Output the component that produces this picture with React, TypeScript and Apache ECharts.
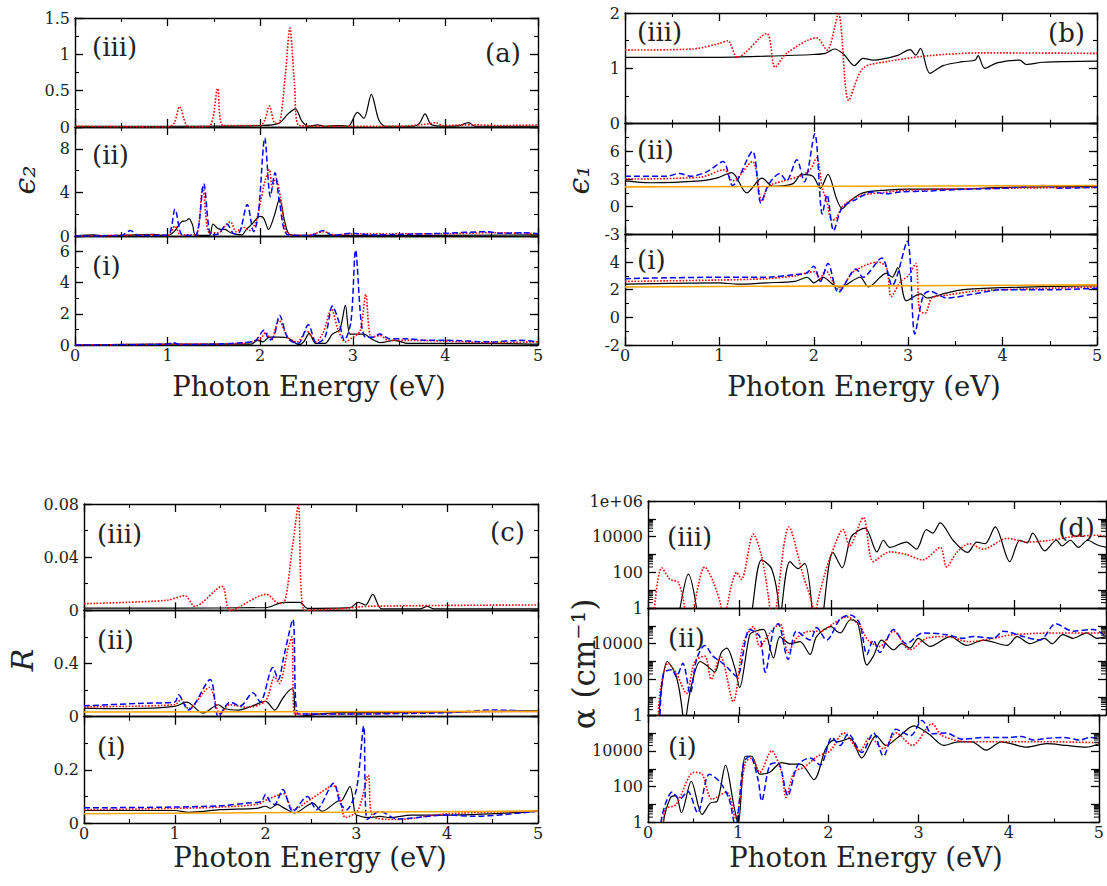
import React, { useEffect, useRef } from "react";
import * as echarts from "echarts";

const FONT = "DejaVu Serif";

// ---------- Panel (a): epsilon_2 ----------
const a3Black = [[0,0.01],[1.0,0.01],[2.0,0.02],[2.2,0.05],[2.3,0.18],[2.38,0.25],[2.45,0.08],[2.52,0.01],[2.62,0.03],[2.7,0.01],[2.85,0.02],[2.95,0.01],[3.05,0.2],[3.12,0.12],[3.2,0.45],[3.28,0.1],[3.35,0.01],[3.65,0.01],[3.72,0.05],[3.78,0.18],[3.85,0.03],[4.0,0.01],[4.15,0.02],[4.25,0.06],[4.32,0.01],[5.0,0.01]];
const a3Red = [[0,0.01],[1.0,0.0],[1.07,0.05],[1.13,0.28],[1.2,0.03],[1.25,0.0],[1.45,0.01],[1.54,0.53],[1.6,0.02],[2.0,0.02],[2.05,0.1],[2.1,0.29],[2.16,0.05],[2.2,0.05],[2.27,0.7],[2.32,1.36],[2.37,0.6],[2.42,0.02],[2.7,0.01],[3.0,0.01],[3.5,0.01],[3.8,0.04],[3.9,0.06],[3.97,0.02],[4.3,0.03],[4.6,0.02],[5.0,0.03]];

const a2Black = [[0,0],[0.2,0.1],[0.3,0.02],[0.85,0.15],[0.95,0.05],[1.0,0.05],[1.07,0.4],[1.15,1.3],[1.2,1.4],[1.23,1.6],[1.27,1.0],[1.3,0.1],[1.45,0.05],[1.49,1.1],[1.54,0.7],[1.58,0.6],[1.62,0.6],[1.68,0.3],[1.8,0.1],[1.85,0.6],[1.9,1.0],[2.0,1.8],[2.04,1.6],[2.09,0.6],[2.15,1.8],[2.21,3.4],[2.26,1.5],[2.31,0.2],[2.4,0.05],[3.0,0.05],[5.0,0.1]];
const a2Red = [[0,0],[0.85,0.1],[1.0,0.05],[1.08,0.9],[1.14,0.1],[1.3,0.1],[1.38,4.5],[1.45,0.3],[1.55,0.3],[1.62,0.9],[1.68,1.3],[1.74,0.4],[1.82,0.8],[1.88,0.5],[1.95,1.2],[2.0,3.0],[2.05,5.0],[2.1,6.1],[2.13,4.5],[2.17,5.3],[2.22,3.5],[2.3,0.2],[2.5,0.05],[2.68,0.4],[2.8,0.1],[3.0,0.2],[4.0,0.2],[4.5,0.3],[5.0,0.2]];
const a2Blue = [[0,0],[0.5,0.05],[0.6,0.5],[0.68,0.05],[1.0,0.1],[1.08,2.45],[1.16,0.1],[1.3,0.05],[1.39,4.8],[1.47,0.1],[1.55,0.2],[1.64,1.1],[1.72,0.2],[1.78,0.4],[1.86,2.9],[1.93,0.4],[1.98,2.0],[2.05,9.0],[2.11,3.6],[2.16,5.8],[2.21,3.0],[2.3,0.1],[2.55,0.05],[2.68,0.5],[2.78,0.05],[3.0,0.25],[3.2,0.1],[3.5,0.15],[4.0,0.25],[4.45,0.4],[4.6,0.25],[4.85,0.3],[5.0,0.2]];

const a1Black = [[0,0],[1.0,0.05],[1.9,0.05],[1.97,0.3],[2.03,0.2],[2.1,0.5],[2.2,0.5],[2.3,0.45],[2.42,0.02],[2.47,0.2],[2.53,0.75],[2.6,0.1],[2.7,0.1],[2.78,0.7],[2.86,1.0],[2.92,2.55],[2.97,0.7],[3.05,0.7],[3.12,0.7],[3.2,0.4],[3.3,0.15],[3.45,0.3],[3.6,0.1],[4.0,0.1],[4.5,0.1],[5.0,0.05]];
const a1Red = [[0,0],[1.0,0.05],[1.8,0.1],[2.0,0.4],[2.06,0.8],[2.12,0.3],[2.2,1.6],[2.3,0.5],[2.4,0.2],[2.5,0.9],[2.6,0.2],[2.68,0.8],[2.77,2.3],[2.84,1.0],[2.92,0.2],[3.0,0.5],[3.08,0.9],[3.14,3.25],[3.2,0.5],[3.3,0.6],[3.38,0.3],[3.6,0.3],[4.0,0.25],[4.5,0.15],[5.0,0.2]];
const a1Blue = [[0,0],[1.0,0.05],[1.05,0.15],[1.15,0.02],[1.5,0.05],[1.8,0.15],[1.95,0.3],[2.04,0.95],[2.1,0.3],[2.15,0.6],[2.21,1.9],[2.3,0.4],[2.41,0.1],[2.52,1.3],[2.61,0.1],[2.7,0.5],[2.78,2.5],[2.85,1.5],[2.91,0.3],[2.98,1.5],[3.03,6.1],[3.09,1.5],[3.14,0.5],[3.22,0.5],[3.29,0.7],[3.4,0.4],[3.6,0.4],[3.8,0.3],[4.0,0.3],[4.5,0.2],[4.8,0.3],[5.0,0.2]];

// ---------- Panel (b): epsilon_1 ----------
const b3Black = [[0,1.2],[1.0,1.2],[1.5,1.22],[2.0,1.25],[2.12,1.27],[2.22,1.35],[2.32,1.25],[2.43,1.05],[2.52,1.18],[2.63,1.15],[2.88,1.23],[3.02,1.34],[3.08,1.24],[3.13,1.36],[3.23,0.91],[3.37,1.05],[3.58,1.12],[3.71,1.15],[3.74,1.23],[3.81,1.0],[3.94,1.1],[4.18,1.15],[4.25,1.07],[4.43,1.11],[5.0,1.13]];
const b3Red = [[0,1.33],[0.72,1.35],[1.0,1.45],[1.09,1.5],[1.19,1.2],[1.5,1.63],[1.59,1.02],[1.71,1.27],[2.03,1.55],[2.14,1.33],[2.26,1.98],[2.37,0.42],[2.52,1.0],[2.77,1.12],[3.23,1.23],[3.79,1.28],[5.0,1.27]];

const b2Black = [[0,2.8],[0.27,2.6],[0.8,2.8],[0.97,3.1],[1.13,3.7],[1.29,1.5],[1.45,3.1],[1.57,2.2],[1.78,2.5],[1.87,3.5],[1.99,3.3],[2.07,2.0],[2.15,3.5],[2.24,0.9],[2.3,-0.2],[2.38,0.6],[2.52,1.5],[2.77,1.8],[3.0,1.9],[3.5,1.9],[4.0,2.1],[5.0,2.2]];
const b2Red = [[0,3.0],[0.8,3.2],[1.05,4.0],[1.14,2.8],[1.35,4.9],[1.45,0.6],[1.52,2.2],[1.68,2.8],[1.85,3.3],[1.96,4.0],[2.03,5.3],[2.09,2.0],[2.14,0.5],[2.19,-1.5],[2.24,-1.2],[2.31,0.1],[2.49,1.2],[2.7,1.5],[3.0,1.8],[4.0,2.0],[5.0,2.1]];
const b2Blue = [[0,3.3],[0.44,3.3],[0.58,3.6],[0.69,3.3],[0.87,3.8],[1.04,4.9],[1.14,2.3],[1.35,6.0],[1.44,0.4],[1.52,2.4],[1.64,3.6],[1.71,2.8],[1.82,5.1],[1.9,2.7],[2.01,7.9],[2.09,-0.8],[2.14,1.3],[2.21,-2.6],[2.3,-0.1],[2.45,0.8],[2.62,1.6],[2.77,1.4],[2.91,1.6],[3.2,1.7],[3.6,1.9],[4.0,2.0],[4.45,2.3],[4.6,2.0],[5.0,2.1]];
const b2Orange = [[0,2.15],[5,2.3]];

const b1Black = [[0,2.4],[1.0,2.5],[1.2,2.4],[1.5,2.5],[1.8,2.6],[1.93,2.9],[2.0,2.5],[2.1,2.9],[2.2,2.4],[2.28,2.2],[2.49,2.9],[2.58,2.2],[2.77,3.2],[2.83,2.9],[2.89,3.6],[2.98,1.2],[3.13,1.7],[3.2,1.4],[3.37,1.7],[3.58,2.0],[4.0,2.15],[5.0,2.3]];
const b1Red = [[0,2.6],[1.0,2.7],[1.5,2.8],[1.8,3.0],[2.0,3.3],[2.07,2.8],[2.12,3.4],[2.27,2.0],[2.42,3.3],[2.68,4.0],[2.77,3.6],[2.82,1.5],[2.92,2.6],[3.0,3.0],[3.08,3.9],[3.12,0.5],[3.18,0.3],[3.25,1.4],[3.4,1.6],[3.7,1.9],[4.0,2.0],[5.0,2.2]];
const b1Blue = [[0,2.8],[1.0,2.9],[1.5,2.9],[1.8,3.1],[1.92,3.2],[2.0,3.7],[2.07,2.6],[2.15,3.9],[2.26,1.8],[2.45,3.5],[2.52,2.9],[2.72,4.3],[2.83,2.3],[2.99,5.5],[3.07,-1.2],[3.16,1.6],[3.23,1.9],[3.41,1.4],[3.7,1.7],[4.0,2.0],[4.5,2.0],[5.0,2.1]];
const b1Orange = [[0,2.2],[5,2.35]];

// ---------- Panel (c): reflectivity R ----------
const c3Black = [[0,0.0017],[1.0,0.0017],[2.0,0.002],[2.2,0.006],[2.38,0.006],[2.46,0.0015],[2.93,0.002],[3.02,0.006],[3.1,0.004],[3.18,0.012],[3.28,0.001],[3.7,0.001],[3.78,0.003],[3.85,0.001],[5.0,0.001]];
const c3Red = [[0,0.005],[0.91,0.0075],[1.11,0.011],[1.22,0.003],[1.52,0.018],[1.61,0.0],[2.01,0.012],[2.12,0.006],[2.19,0.005],[2.3,0.05],[2.36,0.079],[2.43,0.0],[2.79,0.001],[3.15,0.003],[5.0,0.004]];

const c2Black = [[0,0.065],[0.5,0.06],[1.0,0.077],[1.13,0.11],[1.31,0.027],[1.48,0.09],[1.55,0.06],[1.7,0.05],[1.85,0.08],[2.0,0.115],[2.1,0.05],[2.19,0.14],[2.29,0.21],[2.31,0.19],[2.34,0.0],[2.79,0.03],[3.0,0.03],[4.0,0.035],[5.0,0.045]];
const c2Red = [[0,0.075],[1.0,0.09],[1.07,0.13],[1.15,0.06],[1.38,0.22],[1.5,0.02],[1.6,0.09],[1.8,0.07],[2.0,0.12],[2.1,0.3],[2.15,0.25],[2.25,0.52],[2.29,0.6],[2.32,0.02],[2.8,0.02],[4.0,0.035],[5.0,0.04]];
const c2Blue = [[0,0.082],[0.6,0.1],[1.0,0.11],[1.04,0.165],[1.15,0.05],[1.39,0.28],[1.48,0.0],[1.61,0.11],[1.72,0.08],[1.86,0.18],[1.94,0.11],[2.08,0.37],[2.14,0.28],[2.2,0.45],[2.3,0.73],[2.36,0.02],[2.8,0.02],[4.0,0.03],[4.5,0.05],[5.0,0.04]];
const c2Orange = [[0,0.035],[5,0.04]];

const c1Black = [[0,0.047],[1.0,0.047],[1.15,0.04],[1.5,0.05],[1.9,0.055],[2.0,0.063],[2.05,0.055],[2.13,0.07],[2.2,0.057],[2.32,0.038],[2.52,0.075],[2.62,0.044],[2.79,0.082],[2.84,0.085],[2.93,0.138],[2.98,0.044],[3.0,0.03],[3.15,0.02],[3.26,0.025],[3.37,0.02],[3.6,0.03],[4.0,0.03],[5.0,0.044]];
const c1Red = [[0,0.05],[1.0,0.055],[1.5,0.06],[1.9,0.07],[2.03,0.09],[2.2,0.11],[2.3,0.05],[2.5,0.09],[2.75,0.14],[2.82,0.09],[2.88,0.02],[3.02,0.05],[3.13,0.18],[3.18,0.025],[3.45,0.013],[4.0,0.035],[5.0,0.045]];
const c1Blue = [[0,0.057],[1.0,0.06],[1.5,0.065],[1.8,0.075],[1.95,0.08],[2.0,0.107],[2.05,0.08],[2.1,0.07],[2.19,0.126],[2.3,0.044],[2.46,0.1],[2.56,0.05],[2.75,0.15],[2.82,0.075],[2.89,0.05],[3.0,0.126],[3.08,0.365],[3.12,0.013],[3.26,0.044],[3.45,0.015],[4.0,0.03],[4.3,0.025],[5.0,0.045]];
const c1Orange = [[0,0.035],[5,0.045]];

// ---------- Panel (d): absorption alpha (cm^-1), log scale ----------
const d3Black = [[0.3,0.01],[0.35,1],[0.44,80],[0.53,1],[0.56,0.01],[1.1,0.01],[1.14,1],[1.24,500],[1.35,160],[1.43,1],[1.44,0.01],[1.46,1],[1.55,400],[1.64,160],[1.71,320],[1.79,1],[1.8,0.01],[1.9,0.01],[1.92,1],[2.02,1300],[2.12,180],[2.22,1e4],[2.37,3e4],[2.5,1400],[2.57,6300],[2.64,2500],[2.82,5000],[2.93,2000],[3.04,2.5e4],[3.11,1.6e4],[3.19,6e4],[3.33,6300],[3.49,1300],[3.59,5000],[3.68,4000],[3.79,3.5e4],[3.95,400],[4.06,6300],[4.14,4500],[4.2,1.6e4],[4.33,1600],[4.46,6300],[4.52,3000],[4.61,6300],[4.7,2500],[4.8,6300],[4.9,3500],[5.0,2500]];
const d3Red = [[0.05,0.01],[0.08,3],[0.15,180],[0.24,40],[0.33,28],[0.4,1],[0.43,0.01],[0.5,1],[0.62,200],[0.71,32],[0.8,1],[0.82,0.01],[0.86,1],[0.97,100],[1.02,40],[1.15,1.4e4],[1.24,800],[1.33,1],[1.35,0.01],[1.4,1],[1.54,3.5e4],[1.69,80],[1.8,1],[1.82,0.01],[1.84,1],[1.93,80],[2.0,1000],[2.13,2.5e4],[2.2,3000],[2.35,1.2e5],[2.46,400],[2.64,1400],[2.82,1000],[3.0,500],[3.19,2500],[3.26,200],[3.37,1300],[3.51,4000],[3.66,2000],[3.92,8000],[4.14,5000],[4.36,6000],[4.64,1e4],[4.93,1.2e4],[5.0,1e4]];

const d2Black = [[0.1,0.01],[0.12,1],[0.15,40],[0.21,1000],[0.31,140],[0.38,1],[0.4,0.01],[0.42,1],[0.49,100],[0.57,1000],[0.66,500],[0.73,250],[0.8,3200],[0.86,5600],[0.95,400],[1.0,35],[1.11,3.2e4],[1.17,5e4],[1.26,6.3e4],[1.37,1600],[1.44,2.5e4],[1.55,1e4],[1.66,1.3e4],[1.77,2500],[1.84,2.5e4],[2.0,9e4],[2.06,5e4],[2.1,4e4],[2.21,2.2e5],[2.29,1.4e5],[2.39,630],[2.46,2000],[2.55,1.6e4],[2.68,4500],[2.77,1e4],[2.86,5600],[2.95,2e4],[3.08,7000],[3.3,2.5e4],[3.48,8000],[3.66,1.6e4],[3.92,8000],[4.03,2.5e4],[4.17,1e4],[4.33,2e4],[4.41,1e4],[4.53,3.2e4],[4.64,2e4],[4.79,4e4],[4.9,2e4],[5.0,2.5e4]];
const d2Red = [[0.1,0.01],[0.13,16],[0.22,800],[0.31,220],[0.42,16],[0.51,1000],[0.62,2000],[0.69,100],[0.79,2000],[0.93,5.6],[1.04,1e4],[1.15,9e4],[1.22,7000],[1.33,4e4],[1.44,1.3e5],[1.53,3200],[1.62,2e4],[1.77,5e4],[1.88,5e4],[2.02,1.3e5],[2.17,3.2e5],[2.31,1e5],[2.4,1.6e4],[2.53,7000],[2.68,5e4],[2.86,4500],[3.04,2e4],[3.26,2.5e4],[3.5,1.3e4],[4.0,3.2e4],[4.5,4e4],[5.0,4e4]];
const d2Blue = [[0.11,0.01],[0.13,1],[0.17,220],[0.26,350],[0.31,140],[0.38,800],[0.46,16],[0.53,1300],[0.62,8000],[0.71,2000],[0.79,1000],[0.86,500],[0.97,140],[1.11,6.3e4],[1.22,2.5e4],[1.28,250],[1.37,6.3e4],[1.42,1.3e5],[1.53,1300],[1.62,5e4],[1.77,1.6e4],[1.84,8e4],[1.95,1.6e4],[2.1,2.5e5],[2.21,4e5],[2.31,1.4e5],[2.39,2500],[2.46,1.6e4],[2.53,3200],[2.68,6.3e4],[2.82,1e4],[3.0,4e4],[3.26,3.2e4],[3.44,2e4],[3.55,2.5e4],[3.77,2e4],[3.88,5e4],[4.1,2.5e4],[4.28,1.6e4],[4.45,1.3e5],[4.64,5e4],[4.86,6.3e4],[5.0,2.5e4]];

const d1Black = [[0.15,0.01],[0.17,1],[0.25,25],[0.31,32],[0.37,3.5],[0.48,200],[0.6,2.8],[0.69,12],[0.77,16],[0.86,1600],[0.95,10],[1.0,0.8],[1.08,5000],[1.15,5000],[1.24,500],[1.35,630],[1.48,2200],[1.58,1800],[1.69,1800],[1.84,250],[1.97,1.3e4],[2.06,4e4],[2.1,3.2e4],[2.24,5e4],[2.37,4000],[2.53,7e4],[2.64,2e4],[2.77,5.6e4],[2.95,2.5e5],[3.11,9e4],[3.28,2e4],[3.44,3.2e4],[3.59,3.2e4],[3.75,1.1e4],[3.92,3.2e4],[4.2,1.6e4],[4.42,2.5e4],[4.64,2e4],[4.86,1.6e4],[5.0,2.5e4]];
const d1Red = [[0.17,0.5],[0.19,5.6],[0.31,10],[0.51,630],[0.6,500],[0.71,20],[0.87,50],[0.97,1.8],[1.08,2200],[1.15,4000],[1.24,630],[1.37,1e4],[1.48,630],[1.53,25],[1.62,630],[1.74,1300],[1.88,5000],[2.02,1e4],[2.13,7e4],[2.17,1e5],[2.35,1e4],[2.46,5.6e4],[2.61,1.3e4],[2.75,1e5],[2.93,2e4],[3.15,3.2e5],[3.26,7e4],[3.55,3.2e4],[4.0,3.2e4],[4.5,3.2e4],[5.0,2.8e4]];
const d1Blue = [[0.13,0.01],[0.15,1.6],[0.27,50],[0.35,20],[0.44,56],[0.55,3.5],[0.68,500],[0.79,200],[0.9,20],[0.97,0.5],[1.06,2200],[1.13,5000],[1.22,250],[1.26,16],[1.35,1600],[1.44,2200],[1.55,32],[1.66,1600],[1.8,4000],[1.91,1600],[2.04,5.6e4],[2.13,2e4],[2.22,9e4],[2.37,8000],[2.5,1e5],[2.61,5000],[2.75,1.6e5],[2.91,7e4],[3.04,5e5],[3.15,9e4],[3.3,1e5],[3.48,4.5e4],[3.73,5.6e4],[3.98,5.6e4],[4.14,6.3e4],[4.28,4e4],[4.42,5e4],[4.61,5.6e4],[4.79,4e4],[4.9,5.6e4],[5.0,5e4]];

// minor tick values of the log axes (2..9 times each labelled power)
const LOG_MINOR_TICKS = [2, 3, 4, 5, 6, 7, 8, 9, 200, 300, 400, 500, 600, 700, 800, 900, 20000, 30000, 40000, 50000, 60000, 70000, 80000, 90000];
const TICK_LEN_EV = 0.055; // minor tick length, in x units

// ---------- styles & layout ----------
const STYLE: any = {
  black: { color: "#000000", width: 1.2, type: "solid", z: 2 },
  red: { color: "#ff0000", width: 1.6, type: "dotted", z: 3 },
  blue: { color: "#0000ff", width: 1.5, type: [6, 3], z: 4 },
  orange: { color: "#ffa500", width: 1.6, type: "solid", z: 5 },
};

const SUBS: any[] = [
  { left: 75, top: 18, width: 463, height: 109, ymin: 0, ymax: 1.5, major: 0.5, minor: 0.25, isTop: true, showX: false, lines: [["black", a3Black], ["red", a3Red]] },
  { left: 75, top: 127, width: 463, height: 109, ymin: 0, ymax: 10, major: 4, minor: 2, isTop: false, showX: false, lines: [["black", a2Black], ["red", a2Red], ["blue", a2Blue]] },
  { left: 75, top: 236, width: 463, height: 109, ymin: 0, ymax: 7, major: 2, minor: 1, isTop: false, showX: true, lines: [["black", a1Black], ["red", a1Red], ["blue", a1Blue]] },

  { left: 625, top: 13, width: 472, height: 110.7, ymin: 0, ymax: 2, major: 1, minor: 0.5, isTop: true, showX: false, lines: [["black", b3Black], ["red", b3Red]] },
  { left: 625, top: 123.7, width: 472, height: 110.7, ymin: -3, ymax: 9, major: 3, minor: 1.5, isTop: false, showX: false, lines: [["black", b2Black], ["red", b2Red], ["blue", b2Blue], ["orange", b2Orange]] },
  { left: 625, top: 234.4, width: 472, height: 110.6, ymin: -2, ymax: 6, major: 2, minor: 1, isTop: false, showX: true, lines: [["black", b1Black], ["red", b1Red], ["blue", b1Blue], ["orange", b1Orange]] },

  { left: 84, top: 504, width: 454, height: 106.3, ymin: 0, ymax: 0.08, major: 0.04, minor: 0.02, isTop: true, showX: false, lines: [["black", c3Black], ["red", c3Red]] },
  { left: 84, top: 610.3, width: 454, height: 106.4, ymin: 0, ymax: 0.8, major: 0.4, minor: 0.2, isTop: false, showX: false, lines: [["black", c2Black], ["red", c2Red], ["blue", c2Blue], ["orange", c2Orange]] },
  { left: 84, top: 716.7, width: 454, height: 106.3, ymin: 0, ymax: 0.4, major: 0.2, minor: 0.1, isTop: false, showX: true, lines: [["black", c1Black], ["red", c1Red], ["blue", c1Blue], ["orange", c1Orange]] },

  { left: 648, top: 501, width: 458, height: 107, log: true, isTop: true, showX: false, lines: [["black", d3Black], ["red", d3Red]] },
  { left: 648, top: 608, width: 458, height: 107, log: true, isTop: false, showX: false, lines: [["black", d2Black], ["red", d2Red], ["blue", d2Blue]] },
  { left: 648, top: 715, width: 458, height: 107.5, log: true, isTop: false, showX: true, lines: [["black", d1Black], ["red", d1Red], ["blue", d1Blue]] },
];

const LABELS: any[] = [
  ["(iii)", 92, 47], ["(ii)", 92, 155], ["(i)", 92, 266], ["(a)", 485, 53],
  ["(iii)", 637, 32], ["(ii)", 637, 150], ["(i)", 637, 260], ["(b)", 1048, 33],
  ["(iii)", 97, 534], ["(ii)", 97, 640], ["(i)", 97, 747], ["(c)", 490, 532],
  ["(iii)", 667, 537], ["(ii)", 668, 638], ["(i)", 668, 747], ["(d)", 1058, 528],
];

function fmtNum(v: number) {
  return String(parseFloat(v.toFixed(6)));
}

function buildOption() {
  const grid: any[] = [];
  const xAxis: any[] = [];
  const yAxis: any[] = [];
  const series: any[] = [];
  const axisLine = { show: true, onZero: false, lineStyle: { color: "#000", width: 1.4 } };
  const majorTick = { show: true, inside: true, length: 8, lineStyle: { color: "#000", width: 1.3 } };
  const minorTickLine = { show: true, inside: true, length: 4, lineStyle: { color: "#000", width: 1.1 } };
  const labelBase = { color: "#222", fontFamily: FONT, fontSize: 16 };

  SUBS.forEach((s) => {
    const g = grid.length;
    grid.push({ left: s.left, top: s.top, width: s.width, height: s.height });
    const xi = xAxis.length;
    const xCommon = {
      type: "value", gridIndex: g, min: 0, max: 5, interval: 1,
      axisLine, axisTick: majorTick,
      minorTick: { show: true, splitNumber: 2, length: 4, lineStyle: { color: "#000", width: 1.1 } },
      splitLine: { show: false }, minorSplitLine: { show: false },
    };
    xAxis.push({ ...xCommon, position: "bottom", axisLabel: { ...labelBase, show: s.showX, margin: 2 } });
    xAxis.push({ ...xCommon, position: "top", axisLabel: { show: false } });
    const yi = yAxis.length;
    if (s.log) {
      const yCommon = {
        type: "log", logBase: 10, gridIndex: g, min: 1, max: 1e6, splitNumber: 3,
        axisLine, axisTick: majorTick, splitLine: { show: false },
      };
      yAxis.push({
        ...yCommon, position: "left",
        axisLabel: {
          ...labelBase, margin: 5,
          formatter: (v: number) => {
            const e = Math.round(Math.log10(v));
            if (e % 2 !== 0) return "";
            if (e === 6) return s.isTop ? "1e+06" : "";
            return String(Math.round(v));
          },
        },
      });
      yAxis.push({ ...yCommon, position: "right", axisLabel: { show: false } });
      // dense minor ticks of the log axis on both vertical edges (short broken line segments)
      const tickData: any[] = [];
      LOG_MINOR_TICKS.forEach((v) => {
        tickData.push([0, v], [TICK_LEN_EV, v], [TICK_LEN_EV, "-"]);
        tickData.push([5 - TICK_LEN_EV, v], [5, v], [5, "-"]);
      });
      series.push({
        type: "line", xAxisIndex: xi, yAxisIndex: yi, data: tickData,
        showSymbol: false, symbol: "none", smooth: false, connectNulls: false, silent: true, z: 10,
        lineStyle: { color: "#000", width: 1, type: "solid" },
      });
    } else {
      const yCommon = {
        type: "value", gridIndex: g, min: s.ymin, max: s.ymax, interval: s.major,
        axisLine, axisTick: majorTick, minorTick: { show: false }, splitLine: { show: false },
      };
      yAxis.push({
        ...yCommon, position: "left",
        axisLabel: {
          ...labelBase, margin: 5,
          formatter: (v: number) => {
            if (!s.isTop && Math.abs(v - s.ymax) < 1e-9) return "";
            const k = (v - s.ymin) / s.major;
            if (Math.abs(k - Math.round(k)) > 1e-6) return "";
            return fmtNum(v);
          },
        },
      });
      yAxis.push({ ...yCommon, position: "right", axisLabel: { show: false } });
      // overlay grid carrying the minor ticks
      const g2 = grid.length;
      grid.push({ left: s.left, top: s.top, width: s.width, height: s.height });
      xAxis.push({ type: "value", gridIndex: g2, min: 0, max: 5, show: false });
      const mCommon = {
        type: "value", gridIndex: g2, min: s.ymin, max: s.ymax, interval: s.minor,
        axisLine: { show: false, onZero: false }, axisTick: minorTickLine, axisLabel: { show: false }, splitLine: { show: false },
      };
      yAxis.push({ ...mCommon, position: "left" });
      yAxis.push({ ...mCommon, position: "right" });
    }
    s.lines.forEach(([kind, data]: any) => {
      const st = STYLE[kind];
      series.push({
        type: "line", xAxisIndex: xi, yAxisIndex: yi, data,
        showSymbol: false, symbol: "none", smooth: 0.3, silent: true, z: st.z,
        lineStyle: { color: st.color, width: st.width, type: st.type },
      });
    });
  });

  const graphic: any[] = [];
  const txt = (text: string, x: number, y: number, size: number, opts: any = {}) => ({
    type: "text", x, y, rotation: opts.rotation || 0, silent: true,
    style: {
      text, fill: "#222", fontFamily: FONT, fontSize: size, fontStyle: opts.italic ? "italic" : "normal",
      align: opts.align || "left", textAlign: opts.align || "left",
      verticalAlign: "middle", textVerticalAlign: "middle",
    },
  });
  LABELS.forEach(([t, x, y]) => graphic.push(txt(t, x, y, 26)));
  graphic.push(txt("Photon Energy (eV)", 309, 386, 27.5, { align: "center" }));
  graphic.push(txt("Photon Energy (eV)", 864, 386, 27.5, { align: "center" }));
  graphic.push(txt("Photon Energy (eV)", 310, 857, 27.5, { align: "center" }));
  graphic.push(txt("Photon Energy (eV)", 866, 857, 27.5, { align: "center" }));
  graphic.push(txt("ϵ₂", 24, 180, 30, { align: "center", rotation: Math.PI / 2, italic: true }));
  graphic.push(txt("ϵ₁", 578, 180, 30, { align: "center", rotation: Math.PI / 2, italic: true }));
  graphic.push(txt("R", 22, 660, 30, { align: "center", rotation: Math.PI / 2, italic: true }));
  graphic.push(txt("α (cm⁻¹)", 584, 664, 31, { align: "center", rotation: Math.PI / 2 }));

  return { animation: false, backgroundColor: "#ffffff", grid, xAxis, yAxis, series, graphic };
}

export default function App() {
  const ref = useRef<HTMLDivElement>(null);
  useEffect(() => {
    if (!ref.current) return;
    const chart = echarts.init(ref.current, null, { renderer: "svg" });
    chart.setOption(buildOption() as any);
    return () => chart.dispose();
  }, []);
  return <div ref={ref} style={{ position: "absolute", left: 0, top: 0, width: 1107, height: 886 }} />;
}
